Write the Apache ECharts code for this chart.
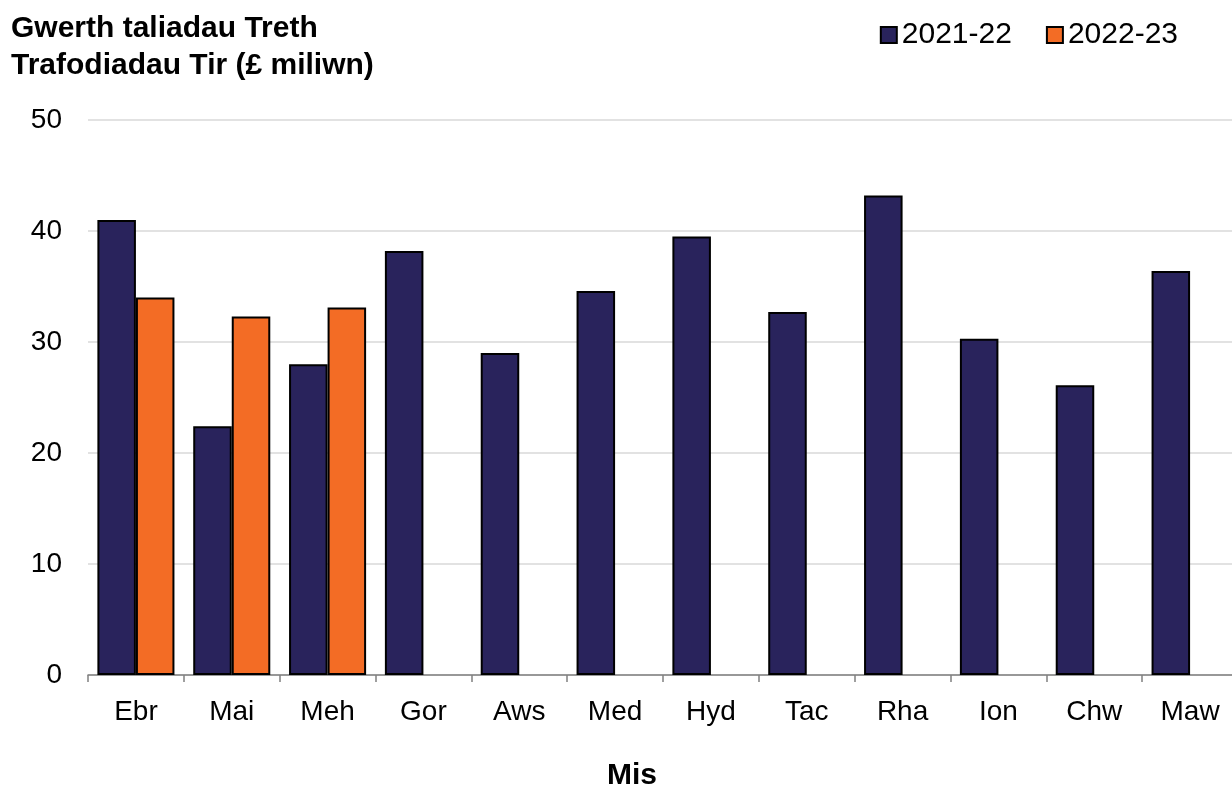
<!DOCTYPE html>
<html>
<head>
<meta charset="utf-8">
<script src="https://cdn.jsdelivr.net/npm/echarts@6/dist/echarts.min.js"></script>
<style>
  html, body { margin: 0; padding: 0; background: #fff; }
  #main { width: 1232px; height: 787px; }
</style>
</head>
<body>
<div id="main"></div>
<script>
// months (Welsh short names)
var months = ['Ebr', 'Mai', 'Meh', 'Gor', 'Aws', 'Med', 'Hyd', 'Tac', 'Rha', 'Ion', 'Chw', 'Maw']
var vals2122 = [41.0, 22.4, 28.0, 38.2, 29.0, 34.6, 39.5, 32.7, 43.2, 30.3, 26.1, 36.4]
var vals2223 = [34.0, 32.3, 33.1, null, null, null, null, null, null, null, null, null]
var seriesNames = ['2021-22', '2022-23']

var font = 'Liberation Sans, Arial, sans-serif'
var chart = echarts.init(document.getElementById('main'))

chart.setOption({
  animation: false,
  textStyle: { fontFamily: font },
  title: {
    text: 'Gwerth taliadau Treth\nTrafodiadau Tir (£ miliwn)',
    left: 6,
    top: 5,
    textStyle: {
      fontFamily: font,
      fontSize: 30,
      fontWeight: 'bold',
      color: '#000',
      lineHeight: 37
    }
  },
  legend: {
    data: seriesNames,
    right: 49,
    top: 15,
    itemWidth: 16,
    itemHeight: 16,
    itemGap: 34,
    icon: 'rect',
    textStyle: { fontFamily: font, fontSize: 30, color: '#000' }
  },
  grid: {
    left: 88,
    right: -6,
    top: 120,
    bottom: 112,
    containLabel: false,
    outerBoundsMode: 'none'
  },
  xAxis: {
    type: 'category',
    data: months,
    name: 'Mis',
    nameLocation: 'middle',
    nameGap: 86,
    nameTextStyle: {
      fontFamily: font,
      fontSize: 30,
      fontWeight: 'bold',
      color: '#000',
      padding: [0, 62, 0, 0] // shifts the name a bit left like the original
    },
    axisLine: { lineStyle: { color: '#808080', width: 1.5 } },
    axisTick: { show: true, length: 7, lineStyle: { color: '#808080', width: 1.5 } },
    axisLabel: { fontFamily: font, fontSize: 28, color: '#000', margin: 23 },
    splitLine: { show: false }
  },
  yAxis: {
    type: 'value',
    min: 0,
    max: 50,
    interval: 10,
    axisLine: { show: false },
    axisTick: { show: false },
    axisLabel: { fontFamily: font, fontSize: 28, color: '#000', margin: 26 },
    splitLine: { lineStyle: { color: '#d9d9d9', width: 1.5 } }
  },
  series: [{
    name: seriesNames[0],
    type: 'bar',
    data: vals2122,
    barGap: 0,
    barCategoryGap: '19.6%',
    itemStyle: { color: '#29235c', borderColor: '#000', borderWidth: 2 }
  },
  {
    name: seriesNames[1],
    type: 'bar',
    data: vals2223,
    barGap: 0,
    barCategoryGap: '19.6%',
    itemStyle: { color: '#f36c25', borderColor: '#000', borderWidth: 2 }
  }]
})
</script>
</body>
</html>
